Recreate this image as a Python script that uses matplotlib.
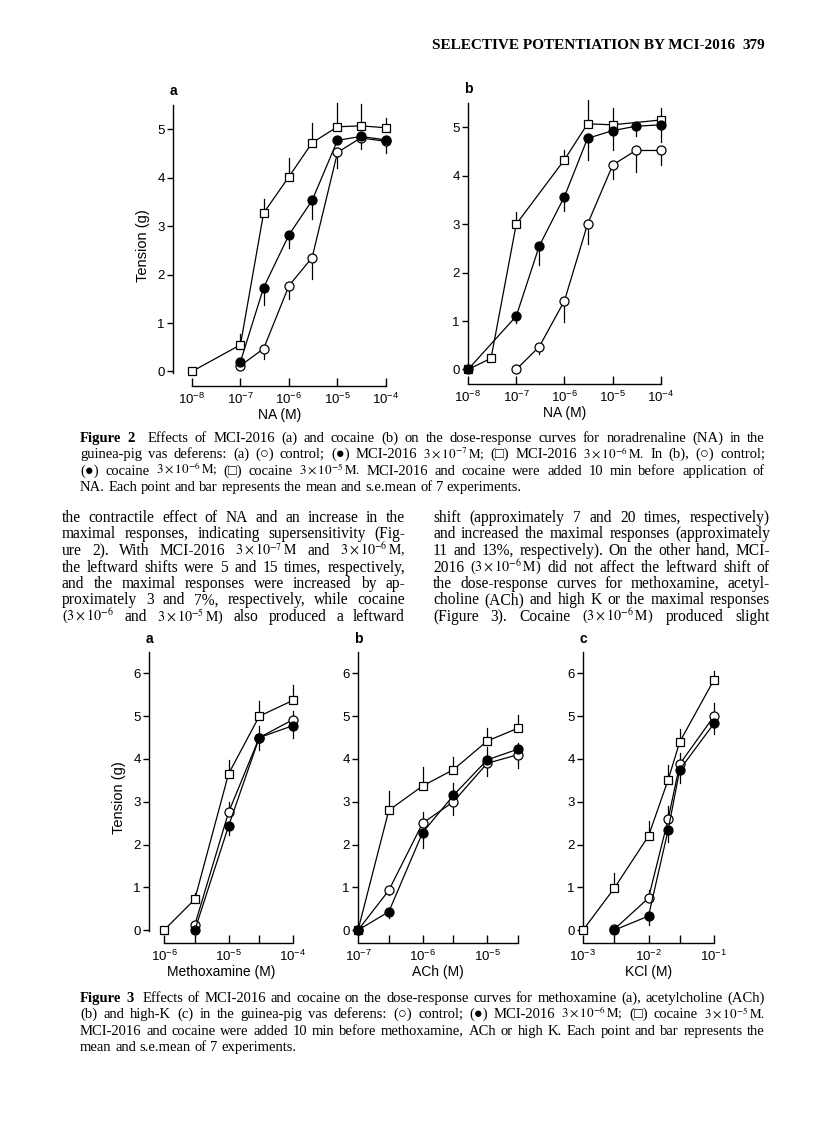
import matplotlib
matplotlib.use('Agg')
from matplotlib import pyplot as plt
from matplotlib.ticker import FixedLocator, NullFormatter, NullLocator

plt.rcParams['font.family'] = ['Liberation Sans', 'DejaVu Sans']
plt.rcParams['mathtext.fontset'] = 'custom'
plt.rcParams['mathtext.rm'] = 'Liberation Sans'
plt.rcParams['mathtext.it'] = 'Liberation Sans:italic'
plt.rcParams['mathtext.bf'] = 'Liberation Sans:bold'

W, H = 816, 1142
SERIF = ['Liberation Serif', 'DejaVu Serif']

# ---- data: Figure 2a (NA, MCI-2016) ----
# error values are signed: + bar drawn upward, - bar drawn downward
na_a_ctl_x = [1e-7, 3e-7, 1e-6, 3e-6, 1e-5, 3e-5, 1e-4]
na_a_ctl = [0.12, 0.47, 1.77, 2.35, 4.52, 4.82, 4.75]
na_a_ctl_err = [0, -0.22, -0.27, -0.45, -0.32, -0.22, -0.25]
na_a_lo_x = [1e-7, 3e-7, 1e-6, 3e-6, 1e-5, 3e-5, 1e-4]
na_a_lo = [0.2, 1.73, 2.82, 3.53, 4.77, 4.85, 4.78]
na_a_lo_err = [0, -0.35, -0.28, -0.38, 0, -0.1, -0.1]
na_a_hi_x = [1e-8, 1e-7, 3e-7, 1e-6, 3e-6, 1e-5, 3e-5, 1e-4]
na_a_hi = [0, 0.55, 3.27, 4.02, 4.72, 5.05, 5.07, 5.03]
na_a_hi_err = [0, 0.22, 0.3, 0.38, 0.4, 0.5, 0.45, 0.2]

# ---- data: Figure 2b (NA, cocaine) ----
na_b_ctl_x = [1e-7, 3e-7, 1e-6, 3e-6, 1e-5, 3e-5, 1e-4]
na_b_ctl = [0, 0.47, 1.42, 3.0, 4.22, 4.52, 4.52]
na_b_ctl_err = [0, -0.15, -0.45, -0.4, -0.28, -0.45, -0.3]
na_b_lo_x = [1e-8, 1e-7, 3e-7, 1e-6, 3e-6, 1e-5, 3e-5, 1e-4]
na_b_lo = [0, 1.1, 2.55, 3.57, 4.77, 4.93, 5.02, 5.05]
na_b_lo_err = [0, -0.15, -0.4, -0.3, -0.45, -0.4, -0.2, -0.35]
na_b_hi_x = [1e-8, 3e-8, 1e-7, 1e-6, 3e-6, 1e-5, 1e-4]
na_b_hi = [0, 0.23, 3.0, 4.33, 5.07, 5.05, 5.15]
na_b_hi_err = [0, 0, 0.25, 0.2, 0.5, 0.35, 0.25]

# ---- data: Figure 3a (methoxamine) ----
mx_sq_x = [1e-6, 3e-6, 1e-5, 3e-5, 1e-4]
mx_sq = [0, 0.72, 3.65, 5.0, 5.37]
mx_sq_err = [0, 0.15, 0.32, 0.35, 0.35]
mx_x = [3e-6, 1e-5, 3e-5, 1e-4]
mx_ctl = [0.12, 2.75, 4.5, 4.92]
mx_ctl_err = [0, 0.25, 0.28, 0.2]
mx_mci = [0.0, 2.43, 4.5, 4.78]
mx_mci_err = [0, -0.2, -0.3, -0.3]

# ---- data: Figure 3b (ACh) ----
ach_x = [1e-7, 3e-7, 1e-6, 3e-6, 1e-5, 3e-5]
ach_sq = [0, 2.8, 3.37, 3.75, 4.42, 4.72]
ach_sq_err = [0, 0.45, 0.45, 0.3, 0.3, 0.3]
ach_ctl = [0, 0.93, 2.5, 3.0, 3.9, 4.1]
ach_ctl_err = [0, -0.1, 0.25, -0.3, -0.3, -0.3]
ach_mci = [0, 0.43, 2.28, 3.15, 3.98, 4.23]
ach_mci_err = [0, -0.15, -0.35, 0.3, 0.3, 0.15]

# ---- data: Figure 3c (KCl) ----
k_sq_x = [1e-3, 3e-3, 1e-2, 2e-2, 3e-2, 1e-1]
k_sq = [0, 0.98, 2.2, 3.52, 4.4, 5.85]
k_sq_err = [0, 0.35, 0.35, 0.35, 0.3, 0.2]
k_x = [3e-3, 1e-2, 2e-2, 3e-2, 1e-1]
k_ctl = [0.02, 0.75, 2.6, 3.88, 5.0]
k_ctl_err = [0, 0.2, 0.3, 0.25, 0.3]
k_mci = [0, 0.33, 2.35, 3.75, 4.83]
k_mci_err = [0, -0.2, -0.3, -0.3, -0.25]

# ---- text ----
header = "SELECTIVE POTENTIATION BY MCI-2016"
page_no = "379"
cap2 = [
    "Figure 2  Effects of MCI-2016 (a) and cocaine (b) on the dose-response curves for noradrenaline (NA) in the",
    r"guinea-pig vas deferens: (a) (○) control; (●) MCI-2016 $3\times10^{-7}\,\mathrm{M}$; (□) MCI-2016 $3\times10^{-6}\,\mathrm{M}$. In (b), (○) control;",
    r"(●) cocaine $3\times10^{-6}\,\mathrm{M}$; (□) cocaine $3\times10^{-5}\,\mathrm{M}$. MCI-2016 and cocaine were added 10 min before application of",
    "NA. Each point and bar represents the mean and s.e.mean of 7 experiments.",
]
body_left = [
    "the contractile effect of NA and an increase in the",
    "maximal responses, indicating supersensitivity (Fig-",
    r"ure 2). With MCI-2016 $3\times10^{-7}\,\mathrm{M}$ and $3\times10^{-6}\,\mathrm{M}$,",
    "the leftward shifts were 5 and 15 times, respectively,",
    "and the maximal responses were increased by ap-",
    "proximately 3 and 7%, respectively, while cocaine",
    r"($3\times10^{-6}$ and $3\times10^{-5}\,\mathrm{M}$) also produced a leftward",
]
body_right = [
    "shift (approximately 7 and 20 times, respectively)",
    "and increased the maximal responses (approximately",
    "11 and 13%, respectively). On the other hand, MCI-",
    r"2016 ($3\times10^{-6}\,\mathrm{M}$) did not affect the leftward shift of",
    "the dose-response curves for methoxamine, acetyl-",
    "choline (ACh) and high K or the maximal responses",
    r"(Figure 3). Cocaine ($3\times10^{-6}\,\mathrm{M}$) produced slight",
]
cap3 = [
    "Figure 3  Effects of MCI-2016 and cocaine on the dose-response curves for methoxamine (a), acetylcholine (ACh)",
    r"(b) and high-K (c) in the guinea-pig vas deferens: (○) control; (●) MCI-2016 $3\times10^{-6}\,\mathrm{M}$; (□) cocaine $3\times10^{-5}\,\mathrm{M}$.",
    "MCI-2016 and cocaine were added 10 min before methoxamine, ACh or high K. Each point and bar represents the",
    "mean and s.e.mean of 7 experiments.",
]

fig = plt.figure(figsize=(W / 100, H / 100), dpi=100)
fig.patch.set_facecolor('white')
renderer = fig.canvas.get_renderer()

TICK = 9.5
LAB = 10


def panel(left, right, top, bottom, xlim, ylim, xbound, ybound, majors, minors, yticks):
    ax = fig.add_axes([left / W, 1 - bottom / H, (right - left) / W, (bottom - top) / H])
    ax.set_xscale('log')
    ax.set_xlim(*xlim)
    ax.set_ylim(*ylim)
    ax.patch.set_alpha(0)
    for s in ['top', 'right']:
        ax.spines[s].set_visible(False)
    ax.spines['left'].set_bounds(*ybound)
    ax.spines['bottom'].set_bounds(*xbound)
    ax.spines['left'].set_linewidth(1.0)
    ax.spines['bottom'].set_linewidth(1.0)
    ax.xaxis.set_major_locator(FixedLocator(majors))
    if minors:
        ax.xaxis.set_minor_locator(FixedLocator(minors))
    else:
        ax.xaxis.set_minor_locator(NullLocator())
    ax.xaxis.set_minor_formatter(NullFormatter())
    ax.set_yticks(yticks)
    ax.tick_params(axis='x', which='both', direction='in', length=6, width=1.0,
                   labelsize=TICK, pad=4)
    ax.tick_params(axis='y', direction='out', length=4, width=1.0, labelsize=TICK, pad=2)
    return ax


def series(ax, x, y, err, marker, face, ms):
    ax.plot(x, y, color='black', lw=0.9, marker=marker, mfc=face, mec='black',
            ms=ms, mew=0.9, clip_on=False, zorder=3)
    for xi, yi, ei in zip(x, y, err):
        if ei:
            ax.plot([xi, xi], [yi, yi + ei], color='black', lw=0.9, clip_on=False, zorder=2)


def three(ax, data):
    for x, y, e, kind in data:
        if kind == 'sq':
            series(ax, x, y, e, 's', 'white', 5.5)
        elif kind == 'ctl':
            series(ax, x, y, e, 'o', 'white', 6.5)
        else:
            series(ax, x, y, e, 'o', 'black', 6.5)


# Figure 2a
ax = panel(173, 386, 105, 386, (10 ** -8.39, 1e-4), (-0.3, 5.5), (1e-8, 1e-4), (-0.03, 5.5),
           [1e-8, 1e-7, 1e-6, 1e-5, 1e-4], None, range(6))
three(ax, [(na_a_hi_x, na_a_hi, na_a_hi_err, 'sq'),
           (na_a_ctl_x, na_a_ctl, na_a_ctl_err, 'ctl'),
           (na_a_lo_x, na_a_lo, na_a_lo_err, 'mci')])
ax.set_ylabel('Tension (g)', fontsize=LAB + 0.5, labelpad=5)
ax.set_xlabel('NA (M)', fontsize=LAB, labelpad=1)
ax.text(0, 1.035, 'a', transform=ax.transAxes, fontsize=10, fontweight='bold', ha='center')

# Figure 2b
ax = panel(468, 661, 103, 384, (1e-8, 1e-4), (-0.3, 5.5), (1e-8, 1e-4), (-0.03, 5.5),
           [1e-8, 1e-7, 1e-6, 1e-5, 1e-4], None, range(6))
three(ax, [(na_b_hi_x, na_b_hi, na_b_hi_err, 'sq'),
           (na_b_ctl_x, na_b_ctl, na_b_ctl_err, 'ctl'),
           (na_b_lo_x, na_b_lo, na_b_lo_err, 'mci')])
ax.set_xlabel('NA (M)', fontsize=LAB, labelpad=1)
ax.text(0, 1.035, 'b', transform=ax.transAxes, fontsize=10, fontweight='bold', ha='center')

# Figure 3a
ax = panel(149, 293, 652, 943, (10 ** -6.233, 1e-4), (-0.3, 6.5), (1e-6, 1e-4), (-0.03, 6.5),
           [1e-6, 1e-5, 1e-4], [3e-6, 3e-5], range(7))
three(ax, [(mx_sq_x, mx_sq, mx_sq_err, 'sq'),
           (mx_x, mx_ctl, mx_ctl_err, 'ctl'),
           (mx_x, mx_mci, mx_mci_err, 'mci')])
ax.set_ylabel('Tension (g)', fontsize=LAB + 0.5, labelpad=5)
ax.set_xlabel('Methoxamine (M)', fontsize=LAB, labelpad=1)
ax.text(0, 1.03, 'a', transform=ax.transAxes, fontsize=10, fontweight='bold', ha='center')

# Figure 3b
ax = panel(358, 518, 652, 943, (1e-7, 3e-5), (-0.3, 6.5), (1e-7, 3e-5), (-0.03, 6.5),
           [1e-7, 1e-6, 1e-5], [3e-7, 3e-6, 3e-5], range(7))
three(ax, [(ach_x, ach_sq, ach_sq_err, 'sq'),
           (ach_x, ach_ctl, ach_ctl_err, 'ctl'),
           (ach_x, ach_mci, ach_mci_err, 'mci')])
ax.set_xlabel('ACh (M)', fontsize=LAB, labelpad=1)
ax.text(0, 1.03, 'b', transform=ax.transAxes, fontsize=10, fontweight='bold', ha='center')

# Figure 3c
ax = panel(583, 714, 652, 943, (1e-3, 1e-1), (-0.3, 6.5), (1e-3, 1e-1), (-0.03, 6.5),
           [1e-3, 1e-2, 1e-1], [3e-3, 3e-2], range(7))
three(ax, [(k_sq_x, k_sq, k_sq_err, 'sq'),
           (k_x, k_ctl, k_ctl_err, 'ctl'),
           (k_x, k_mci, k_mci_err, 'mci')])
ax.set_xlabel('KCl (M)', fontsize=LAB, labelpad=1)
ax.text(0, 1.03, 'c', transform=ax.transAxes, fontsize=10, fontweight='bold', ha='center')


# justified text lines
def put_line(x0, x1, y, line, size, justify=True, bold=0):
    words = line.split()

    def make(sz):
        ts = []
        for i, w in enumerate(words):
            wsz = sz * 0.9 if '$' in w else sz
            ts.append(fig.text(0, 1 - y / H, w, fontsize=wsz, family=SERIF, va='baseline',
                               fontweight='bold' if i < bold else 'normal',
                               math_fontfamily='stix'))
        return ts, [t.get_window_extent(renderer).width for t in ts]

    texts, widths = make(size)
    nat_gap = size * 0.25 * 100 / 72
    need = sum(widths) + nat_gap * 0.6 * (len(words) - 1 + (1 if bold else 0))
    if justify and need > x1 - x0:
        for t in texts:
            t.remove()
        texts, widths = make(size * (x1 - x0) / need)
    if justify and len(words) > 1:
        gap = (x1 - x0 - sum(widths)) / (len(words) - 1 + (1 if bold else 0))
    else:
        gap = nat_gap
    x = x0
    for i, (t, w) in enumerate(zip(texts, widths)):
        t.set_x(x / W)
        x += w + gap
        if bold and i == bold - 1:
            x += gap


def block(x0, x1, y0, step, lines, size, last_justified, bold=0):
    for i, line in enumerate(lines):
        just = last_justified or i < len(lines) - 1
        put_line(x0, x1, y0 + i * step, line, size, just, bold if i == 0 else 0)


fig.text(735 / W, 1 - 49 / H, header, fontsize=11, family=SERIF, fontweight='bold',
         ha='right', va='baseline')
fig.text(765 / W, 1 - 49 / H, page_no, fontsize=11, family=SERIF, fontweight='bold',
         ha='right', va='baseline')

block(80, 765, 442, 16.3, cap2, 10.5, False, bold=2)
block(62, 405, 522, 16.5, body_left, 11.2, True)
block(433, 770, 522, 16.5, body_right, 11.2, True)
block(80, 765, 1002, 16.3, cap3, 10.5, False, bold=2)

fig.savefig('out.png', dpi=100, facecolor='white')
